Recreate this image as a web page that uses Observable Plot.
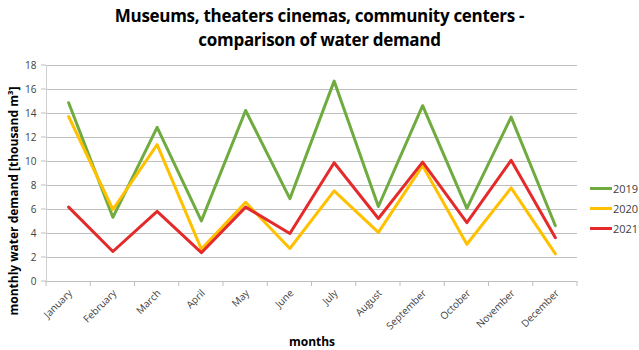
<!DOCTYPE html>
<html>
<head>
<meta charset="utf-8">
<script src="https://cdn.jsdelivr.net/npm/d3@7"></script>
<script src="https://cdn.jsdelivr.net/npm/@observablehq/plot@0.6"></script>
<style>
  html, body { margin: 0; padding: 0; background: #fff; }
  #wrap { position: relative; width: 639px; height: 350px; overflow: hidden; font-family: "Open Sans", sans-serif; }
  #title { position: absolute; left: 0; top: 4px; width: 639px; text-align: center; font-weight: bold; font-size: 17px; line-height: 24px; color: #000; letter-spacing: -0.3px; }
  #chart { position: absolute; left: 0; top: 55px; }
  #legend { position: absolute; left: 590px; top: 178px; font-size: 11px; color: #404040; }
  .li { display: flex; align-items: center; height: 20px; }
  .sw { width: 22px; height: 3px; margin-right: 1px; }
  #ylab { position: absolute; left: 13px; top: 201px; transform: translate(-50%, -50%) rotate(-90deg); white-space: nowrap; font-weight: bold; font-size: 12px; color: #000; }
  #xlab { position: absolute; left: 312px; top: 333px; transform: translateX(-50%); font-weight: bold; font-size: 12px; color: #000; }
</style>
</head>
<body>
<div id="wrap">
  <div id="title">Museums, theaters cinemas, community centers -<br>comparison of water demand</div>
  <div id="chart"></div>
  <div id="ylab">monthly water demand [thousand m³]</div>
  <div id="xlab">months</div>
  <div id="legend"></div>
</div>
<script>
const months = ["January","February","March","April","May","June","July","August","September","October","November","December"];
const seriesNames = ["2019","2020","2021"];
const colors = ["#6FAB3F","#FFC000","#E42A2A"];
const v2019 = [14.9, 5.35, 12.85, 5.05, 14.25, 6.9, 16.7, 6.25, 14.65, 6.1, 13.7, 4.65];
const v2020 = [13.75, 6.0, 11.4, 2.7, 6.6, 2.75, 7.55, 4.1, 9.65, 3.1, 7.8, 2.3];
const v2021 = [6.2, 2.5, 5.85, 2.4, 6.2, 4.0, 9.9, 5.25, 9.95, 4.9, 10.1, 3.65];
const yTicks = [0,2,4,6,8,10,12,14,16,18];

const seriesValues = [v2019, v2020, v2021];
const rows = [];
seriesNames.forEach((s, si) => months.forEach((m, i) => rows.push({series: s, idx: i + 0.5, month: m, value: seriesValues[si][i]})));
const monthRows = months.map((m, i) => ({month: m, idx: i + 0.5}));
const boundaries = d3.range(months.length + 1);

const plot = Plot.plot({
  width: 639,
  height: 295,
  marginTop: 10,
  marginBottom: 69,
  marginLeft: 46,
  marginRight: 62,
  style: {fontFamily: "Open Sans, sans-serif", fontSize: "10px", color: "#404040", background: "#fff"},
  x: {domain: [0, months.length], axis: null},
  y: {domain: [0, 18], ticks: yTicks, label: null, tickSize: 0, tickPadding: 10},
  color: {domain: seriesNames, range: colors},
  marks: [
    Plot.gridY(yTicks, {stroke: "#bfbfbf", strokeOpacity: 1, strokeWidth: 1}),
    Plot.tickY(yTicks, {y: d => d, frameAnchor: "left", x1: 0, x2: 0, stroke: "#bfbfbf", dx: 0}),
    Plot.ruleX([0], {stroke: "#d0d0d0"}),
    Plot.ruleX(boundaries, {x: d => d, y1: 0, y2: 0, stroke: "#bfbfbf", insetTop: 0, dy: 0}),
    Plot.ruleY([0], {stroke: "#bfbfbf"}),
    Plot.line(rows, {x: "idx", y: "value", z: "series", stroke: "series", strokeWidth: 3, curve: "linear"}),
    Plot.text(monthRows, {x: "idx", y: 0, text: "month", rotate: -45, textAnchor: "end", dx: 2, dy: 10, fill: "#404040", fontSize: 10})
  ]
});
document.getElementById("chart").appendChild(plot);

// tick marks below x axis and left of y axis, drawn via scales
const sx = plot.scale("x"), sy = plot.scale("y");
const svg = d3.select(plot);
const g = svg.append("g").attr("stroke", "#bfbfbf");
boundaries.forEach(b => {
  const x = sx.apply(b);
  g.append("line").attr("x1", x).attr("x2", x).attr("y1", sy.apply(0)).attr("y2", sy.apply(0) + 5);
});
yTicks.forEach(t => {
  const y = sy.apply(t);
  g.append("line").attr("x1", sx.apply(0) - 5).attr("x2", sx.apply(0)).attr("y1", y).attr("y2", y);
});

const legend = document.getElementById("legend");
seriesNames.forEach((s, i) => {
  const d = document.createElement("div");
  d.className = "li";
  d.innerHTML = `<span class="sw" style="background:${colors[i]}"></span><span>${s}</span>`;
  legend.appendChild(d);
});
</script>
</body>
</html>
